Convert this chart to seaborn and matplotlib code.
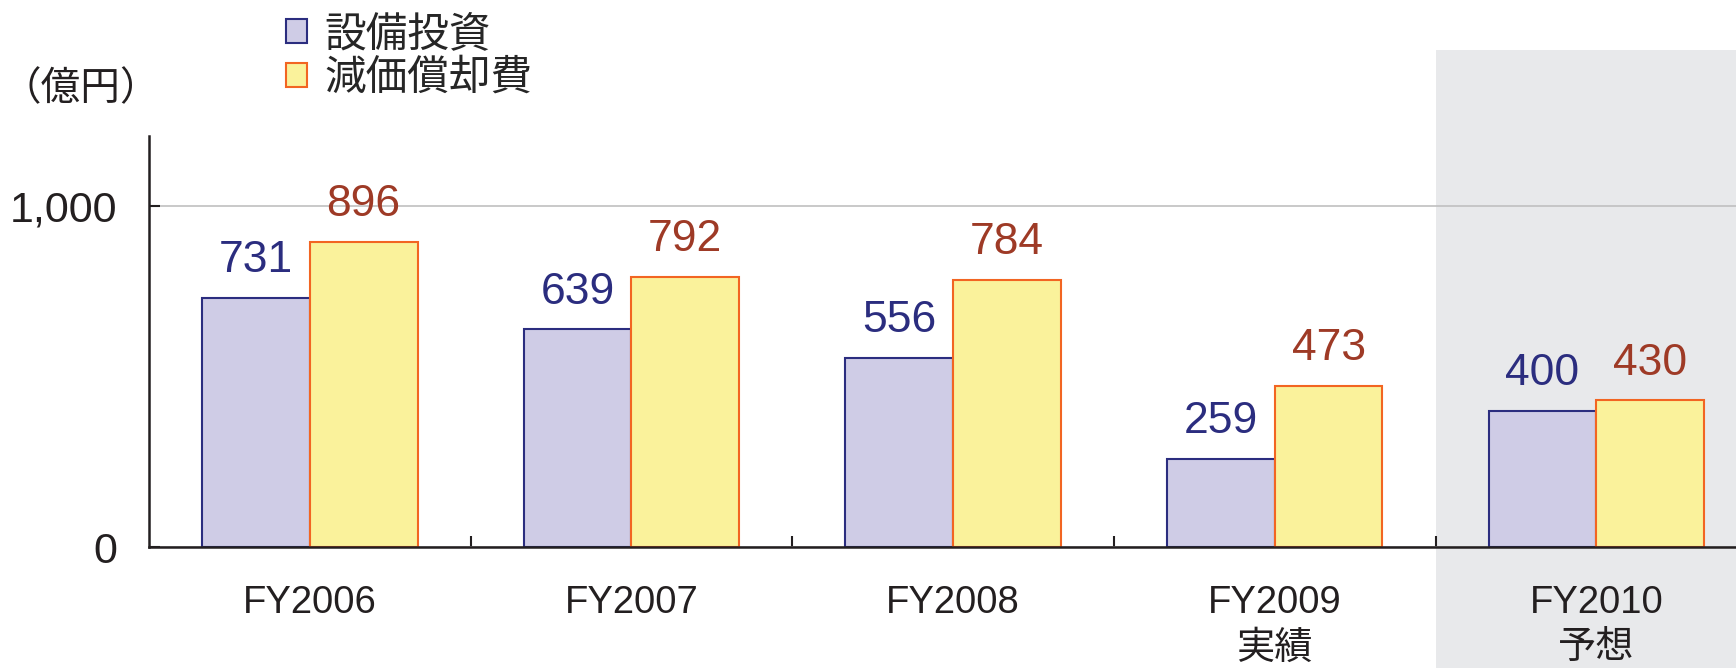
import seaborn as sns
import matplotlib
matplotlib.use('Agg')
import matplotlib.pyplot as plt
import pandas as pd
from matplotlib.patches import Rectangle, Patch
from matplotlib.transforms import blended_transform_factory

sns.set_style('white')
plt.rcParams['font.family'] = ['Liberation Sans', 'Noto Sans CJK JP']

years = ['FY2006', 'FY2007', 'FY2008', 'FY2009\n実績', 'FY2010\n予想']
capex = [731, 639, 556, 259, 400]
depreciation = [896, 792, 784, 473, 430]
series_names = ['設備投資', '減価償却費']

df = pd.DataFrame({
    'year': years * 2,
    'value': capex + depreciation,
    'series': [series_names[0]] * len(years) + [series_names[1]] * len(years),
})

fill_colors = ['#cfcce6', '#faf29b']
edge_colors = ['#2b2d7f', '#f26522']
text_colors = ['#2b2d7f', '#9e3a26']

fig = plt.figure(figsize=(17.36, 6.68), dpi=100)
ax = fig.add_axes([0.0858, 0.181, 0.9142, 0.615])
ax.patch.set_alpha(0)

sns.barplot(data=df, x='year', y='value', hue='series', palette=fill_colors,
            width=0.67, gap=0, saturation=1, legend=False, ax=ax)

for i, cont in enumerate(ax.containers):
    for bar in cont:
        bar.set_edgecolor(edge_colors[i])
        bar.set_linewidth(1.5)
    ax.bar_label(cont, color=text_colors[i], fontsize=32, padding=12)

ax.set_xlim(-0.5, 4.434)
ax.set_ylim(0, 1205)
ax.set_yticks([0, 1000])
ax.set_yticklabels(['0', '1,000'])
ax.set_xlabel('')
ax.set_ylabel('')

ax.tick_params(axis='y', direction='in', length=8, width=1.5, pad=23,
               labelsize=31, left=True, colors='#231f20')
ax.tick_params(axis='x', which='major', length=0, pad=27, labelsize=27.5,
               colors='#231f20')
for lbl in ax.get_xticklabels():
    lbl.set_linespacing(1.35)
ax.set_xticks([0.5, 1.5, 2.5, 3.5], minor=True)
ax.tick_params(axis='x', which='minor', direction='in', length=8, width=1.5,
               bottom=True, color='#231f20')

for s in ['top', 'right']:
    ax.spines[s].set_visible(False)
for s in ['left', 'bottom']:
    ax.spines[s].set_color('#231f20')
    ax.spines[s].set_linewidth(1.8)

ax.grid(axis='y', color='#c0c0c0', lw=1.2)
ax.grid(axis='x', visible=False)
ax.set_axisbelow(True)

# shaded forecast area
trans = blended_transform_factory(ax.transData, fig.transFigure)
rect = Rectangle((3.5, 0), 2, 0.925, transform=trans, facecolor='#e8e9eb',
                 edgecolor='none', zorder=-1)
fig.add_artist(rect)

handles = [Patch(facecolor=fill_colors[i], edgecolor=edge_colors[i], lw=1.5,
                 label=series_names[i]) for i in range(2)]
fig.legend(handles=handles, loc='upper left', bbox_to_anchor=(0.165, 0.978),
           frameon=False, fontsize=30, handlelength=0.5, handleheight=0.5,
           handletextpad=0.4, labelspacing=0.1, borderaxespad=0, borderpad=0)

fig.text(0.001, 1 - 89 / 668, '（億円）', ha='left', va='center',
         fontsize=28.5, color='#231f20')

fig.savefig('out.png', dpi=100)
